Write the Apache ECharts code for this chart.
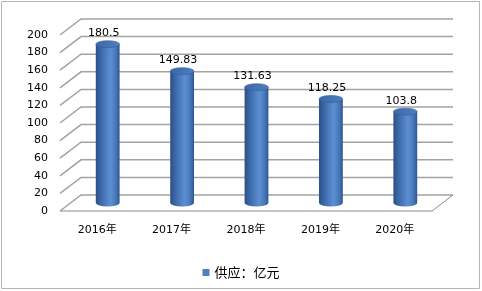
<!DOCTYPE html>
<html>
<head>
<meta charset="utf-8">
<script src="https://cdn.jsdelivr.net/npm/echarts@6/dist/echarts.min.js"></script>
<style>
  html, body { margin: 0; padding: 0; background: #fff; }
  #chart { width: 482px; height: 291px; }
</style>
</head>
<body>
<div id="chart"></div>
<script>
// Annual supply, 100-million yuan
const years = ['2016年', '2017年', '2018年', '2019年', '2020年'];
const supply = [180.5, 149.83, 131.63, 118.25, 103.8];
const yTicks = [0, 20, 40, 60, 80, 100, 120, 140, 160, 180, 200];
const seriesName = '供应：亿元';

// Oblique offset of the back wall relative to the front plane
const DEPTH_X = 21;
const DEPTH_Y = -16;
const NUM_FONT = '11px "DejaVu Sans", "Noto Sans CJK SC", sans-serif';

// Back-wall gridlines with their receding side lines, plus the floor edge
function renderWall(params, api) {
  const cs = params.coordSys;
  const v = api.value(1);
  const y = api.coord([0, v])[1];
  const x0 = cs.x, x1 = cs.x + cs.width;
  const children = [{
    type: 'polyline',
    shape: { points: [[x0, y], [x0 + DEPTH_X, y + DEPTH_Y], [x1 + DEPTH_X, y + DEPTH_Y]] },
    style: { stroke: '#a3a3a3', lineWidth: 1.5, fill: null }
  }];
  if (v === 0) {
    children.push({
      type: 'polyline',
      shape: { points: [[x0, y], [x1, y], [x1 + DEPTH_X, y + DEPTH_Y]] },
      style: { stroke: '#8a8a8a', lineWidth: 1, fill: null }
    });
  }
  return { type: 'group', children };
}

// Shaded cylinder standing mid-depth, with its value above the lid
function renderCylinder(params, api) {
  const i = api.value(0);
  const v = api.value(1);
  const base = api.coord([i, 0]);
  const top = api.coord([i, v]);
  const cx = base[0] + DEPTH_X / 2;
  const yb = base[1] + DEPTH_Y / 2;
  const yt = top[1] + DEPTH_Y / 2;
  const rx = api.size([1, 0])[0] * 0.16;
  const ry = 3.5;
  const bodyFill = {
    type: 'linear', x: 0, y: 0, x2: 1, y2: 0,
    colorStops: [
      { offset: 0, color: '#2b4f88' },
      { offset: 0.25, color: '#3f6cad' },
      { offset: 0.62, color: '#5c8fd2' },
      { offset: 0.85, color: '#4676b8' },
      { offset: 1, color: '#2d5690' }
    ]
  };
  const lidFill = {
    type: 'linear', x: 0, y: 0, x2: 1, y2: 0,
    colorStops: [
      { offset: 0, color: '#3a66a6' },
      { offset: 1, color: '#4f80c0' }
    ]
  };
  return {
    type: 'group',
    children: [
      {
        type: 'path',
        shape: {
          pathData: `M${cx - rx},${yt} L${cx - rx},${yb} A${rx},${ry} 0 0 0 ${cx + rx},${yb} L${cx + rx},${yt} Z`
        },
        style: { fill: bodyFill }
      },
      {
        type: 'path',
        shape: {
          pathData: `M${cx - rx},${yt} A${rx},${ry} 0 1 1 ${cx + rx},${yt} A${rx},${ry} 0 1 1 ${cx - rx},${yt} Z`
        },
        style: { fill: lidFill, stroke: '#34609c', lineWidth: 0.6 }
      },
      {
        type: 'text',
        x: cx - 4,
        y: yt - 11,
        style: {
          text: String(v),
          align: 'center',
          verticalAlign: 'middle',
          font: NUM_FONT,
          fill: '#000'
        }
      }
    ]
  };
}

const chart = echarts.init(document.getElementById('chart'), null, { renderer: 'canvas' });
chart.setOption({
  animation: false,
  backgroundColor: '#fff',
  grid: { left: 60, top: 35, width: 372, height: 176 },
  legend: {
    data: [seriesName],
    left: 'center',
    top: 261,
    icon: 'rect',
    itemWidth: 7,
    itemHeight: 7,
    itemGap: 4,
    textStyle: { fontSize: 13, color: '#000', fontFamily: '"Noto Sans CJK SC", sans-serif' }
  },
  xAxis: {
    type: 'category',
    data: years,
    axisLine: { show: false },
    axisTick: { show: false },
    splitLine: { show: false },
    axisLabel: {
      margin: 14,
      color: '#000',
      fontSize: 11,
      fontFamily: '"DejaVu Sans", "Noto Sans CJK SC", sans-serif'
    }
  },
  yAxis: {
    type: 'value',
    min: 0,
    max: 200,
    interval: 20,
    axisLine: { show: false },
    axisTick: { show: false },
    splitLine: { show: false },
    axisLabel: {
      margin: 12,
      color: '#000',
      fontSize: 11,
      fontFamily: '"DejaVu Sans", sans-serif'
    }
  },
  graphic: [{
    type: 'rect',
    shape: { x: 1.5, y: 1.5, width: 478, height: 287 },
    style: { fill: null, stroke: '#b5b5b5', lineWidth: 1 },
    silent: true
  }],
  series: [
    {
      type: 'custom',
      name: 'wall',
      renderItem: renderWall,
      data: yTicks.map(v => [0, v]),
      encode: { x: 0, y: 1 },
      silent: true,
      z: 1
    },
    {
      type: 'custom',
      name: seriesName,
      renderItem: renderCylinder,
      data: supply.map((v, i) => [i, v]),
      encode: { x: 0, y: 1 },
      itemStyle: { color: '#4F81BD' },
      z: 2
    }
  ]
});
</script>
</body>
</html>
